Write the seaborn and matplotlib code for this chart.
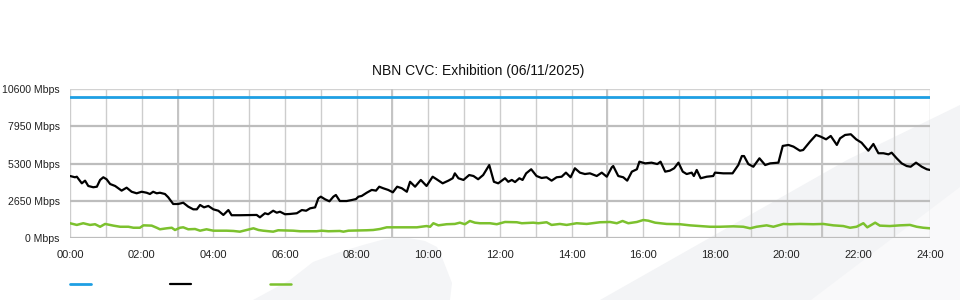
import matplotlib
matplotlib.use("Agg")
import matplotlib.pyplot as plt
import seaborn as sns
import pandas as pd
from matplotlib.patches import Polygon

# capacity (blue), 24h traffic (black), other traffic (green); x in hours
cap_hours = [0.0, 24.0]
cap_mbps = [10000, 10000]

black_hours = [
    0.00, 0.14, 0.19, 0.33, 0.42, 0.51, 0.65, 0.75, 0.84, 0.93, 1.02, 1.12, 1.26, 1.44, 1.58,
    1.72, 1.86, 2.00, 2.14, 2.23, 2.32, 2.42, 2.51, 2.65, 2.74, 2.88, 3.02, 3.16, 3.30, 3.44,
    3.54, 3.63, 3.74, 3.86, 4.00, 4.14, 4.28, 4.42, 4.51, 4.74, 5.21, 5.30, 5.44, 5.53, 5.67,
    5.77, 5.86, 6.00, 6.14, 6.33, 6.47, 6.59, 6.70, 6.84, 6.93, 7.00, 7.12, 7.24, 7.35, 7.42,
    7.53, 7.72, 7.86, 7.98, 8.05, 8.14, 8.28, 8.42, 8.54, 8.63, 8.74, 8.88, 9.01, 9.13, 9.26,
    9.40, 9.49, 9.63, 9.79, 9.95, 10.12, 10.23, 10.40, 10.56, 10.68, 10.74, 10.84, 10.98, 11.14,
    11.26, 11.39, 11.53, 11.70, 11.83, 11.95, 12.14, 12.23, 12.33, 12.42, 12.54, 12.63, 12.73,
    12.87, 13.02, 13.16, 13.30, 13.44, 13.58, 13.72, 13.84, 13.97, 14.09, 14.23, 14.37, 14.51,
    14.70, 14.84, 14.98, 15.12, 15.16, 15.30, 15.44, 15.55, 15.68, 15.82, 15.89, 16.05, 16.23,
    16.39, 16.48, 16.61, 16.74, 16.86, 16.98, 17.10, 17.21, 17.35, 17.41, 17.49, 17.60, 17.77,
    17.95, 18.00, 18.23, 18.49, 18.65, 18.75, 18.81, 18.93, 19.07, 19.24, 19.40, 19.54, 19.77,
    19.89, 20.05, 20.19, 20.37, 20.46, 20.65, 20.82, 20.95, 21.10, 21.23, 21.40, 21.49, 21.63,
    21.79, 21.94, 22.09, 22.28, 22.42, 22.56, 22.70, 22.84, 22.93, 23.07, 23.21, 23.35, 23.46,
    23.61, 23.77, 23.91, 24.00,
]
black_mbps = [
    4410, 4320, 4360, 3890, 4080, 3700, 3610, 3650, 4130, 4320, 4180, 3840, 3700, 3370, 3580,
    3290, 3180, 3290, 3220, 3130, 3290, 3180, 3220, 3130, 2900, 2420, 2420, 2510, 2230, 2040,
    2040, 2350, 2180, 2280, 2040, 1940, 1640, 1990, 1620, 1620, 1640, 1470, 1760, 1690, 1940,
    1800, 1870, 1690, 1710, 1760, 1990, 1940, 2110, 2180, 2820, 2940, 2750, 2610, 2940, 3060,
    2630, 2630, 2700, 2770, 2940, 2990, 3220, 3420, 3370, 3650, 3540, 3420, 3250, 3650, 3540,
    3290, 4000, 3650, 4130, 3700, 4360, 4180, 3890, 4080, 4250, 4600, 4250, 4130, 4480,
    4410, 4180, 4480, 5190, 4000, 3890, 4250, 4000, 4130, 3980, 4250, 4130, 4600,
    4890, 4410, 4270, 4320, 4080, 4320, 4360, 4650, 4320, 4960, 4650, 4550, 4600,
    4410, 4650, 4360, 5030, 5120, 4410, 4320, 4080, 4720, 4890, 5430, 5310, 5360,
    5260, 5430, 4720, 4790, 4960, 5360, 4720, 4550, 4650, 4410, 4840, 4250, 4360,
    4410, 4650, 4600, 4600, 5190, 5830, 5830, 5260, 5070, 5670, 5190, 5310, 5360,
    6550, 6620, 6500, 6210, 6260, 6850, 7330, 7210, 7020, 7260, 6620, 7090, 7330,
    7380, 7020, 6780, 6210, 6690, 6030, 6030, 5950, 6070, 5670, 5310, 5120, 5070,
    5360, 5070, 4890, 4840,
]

green_hours = [
    0.00, 0.19, 0.37, 0.56, 0.70, 0.84, 0.98, 1.21, 1.40, 1.63, 1.77, 1.95, 2.05, 2.28, 2.42,
    2.51, 2.70, 2.84, 2.93, 3.07, 3.16, 3.30, 3.49, 3.63, 3.81, 4.00, 4.37, 4.56, 4.74, 4.93,
    5.12, 5.26, 5.39, 5.67, 5.81, 6.23, 6.42, 6.88, 7.02, 7.21, 7.53, 7.63, 7.77, 8.28, 8.46,
    8.65, 8.84, 9.21, 9.68, 9.95, 10.05, 10.14, 10.28, 10.51, 10.74, 10.88, 11.02, 11.16, 11.30,
    11.44, 11.72, 11.91, 12.14, 12.47, 12.61, 12.93, 13.07, 13.30, 13.44, 13.67, 13.86, 14.14,
    14.42, 14.79, 15.07, 15.26, 15.42, 15.58, 15.82, 16.00, 16.14, 16.33, 16.65, 17.02, 17.30,
    17.58, 17.86, 18.14, 18.51, 18.79, 18.98, 19.16, 19.44, 19.63, 19.91, 20.09, 20.37, 20.74,
    21.02, 21.30, 21.58, 21.77, 21.95, 22.14, 22.25, 22.47, 22.60, 22.88, 23.16, 23.44, 23.63,
    23.81, 24.00,
]
green_mbps = [
    1050, 930, 1050, 930, 980, 800, 1000, 880, 800, 800, 730, 730, 900, 880, 730,
    620, 690, 730, 570, 730, 760, 620, 640, 520, 620, 520, 520, 500, 450, 570,
    690, 570, 520, 450, 550, 520, 480, 480, 520, 480, 500, 450, 520, 550, 570,
    640, 760, 760, 760, 850, 800, 1050, 900, 980, 1000, 1090, 980, 1210, 1090,
    1050, 1050, 980, 1140, 1120, 1050, 1090, 1050, 1120, 930, 1000, 930, 1050,
    1000, 1120, 1140, 1050, 1210, 1050, 1140, 1280, 1230, 1090, 1000, 980, 900,
    850, 800, 800, 830, 800, 690, 800, 900, 800, 1000, 980, 1000, 980,
    1000, 900, 850, 730, 800, 1050, 760, 1090, 880, 850, 900, 930, 800,
    730, 690,
]

y_ticks = [0, 2650, 5300, 7950, 10600]
y_labels = ["0 Mbps", "2650 Mbps", "5300 Mbps", "7950 Mbps", "10600 Mbps"]
x_ticks = list(range(0, 25, 2))
x_labels = ["%02d:00" % h for h in x_ticks]
title = "NBN CVC: Exhibition (06/11/2025)"

sns.set_style("white")
plt.rcParams["font.family"] = ["Liberation Sans", "DejaVu Sans"]

fig = plt.figure(figsize=(9.6, 3.0), dpi=100)

# light background swooshes (pixel coords of the 960x300 canvas)
def px(points):
    return [(x / 960, (300 - y) / 300) for x, y in points]

fin = px([(253, 300), (290, 280), (313, 262), (340, 252), (363, 245), (385, 239), (403, 237),
          (425, 241), (437, 247), (443, 260), (452, 283), (450, 300)])
band = px([(600, 300), (720, 232), (847, 160), (960, 105), (960, 300)])
band_low = px([(811, 300), (960, 187), (960, 300)])
for pts, col in [(fin, "#f4f5f7"), (band, "#f3f4f6"), (band_low, "#f9f9fa")]:
    fig.patches.append(Polygon(pts, closed=True, transform=fig.transFigure,
                               facecolor=col, edgecolor="none", zorder=-5))

ax = fig.add_axes([70 / 960, 62 / 300, 860 / 960, 149 / 300])
ax.set_zorder(2)
ax.set_facecolor("none")

cap = pd.DataFrame({"hour": cap_hours, "mbps": cap_mbps})
black = pd.DataFrame({"hour": black_hours, "mbps": black_mbps})
green = pd.DataFrame({"hour": green_hours, "mbps": green_mbps})

sns.lineplot(data=cap, x="hour", y="mbps", ax=ax, color="#1e9fe3", lw=2.0,
             estimator=None, zorder=5)
sns.lineplot(data=black, x="hour", y="mbps", ax=ax, color="black", lw=1.6,
             estimator=None, zorder=5)
sns.lineplot(data=green, x="hour", y="mbps", ax=ax, color="#7cc12e", lw=1.8,
             estimator=None, zorder=5)

ax.set_xlim(0, 24)
ax.set_ylim(0, 10600)
ax.set_xticks(x_ticks)
ax.set_xticklabels(x_labels)
ax.set_xticks(range(0, 25), minor=True)
ax.set_yticks(y_ticks)
ax.set_yticklabels(y_labels)
ax.set_xlabel("")
ax.set_ylabel("")
ax.tick_params(axis="both", which="both", length=0, labelsize=8, colors="#222222")
ax.tick_params(axis="y", labelsize=7.6, pad=7.5)
ax.tick_params(axis="x", pad=9)

ax.grid(True, axis="x", which="both", color="#cdcdcd", lw=1.0, zorder=1)
ax.grid(True, axis="y", which="major", color="#bdbdbd", lw=1.6, zorder=1)
ax.yaxis.get_gridlines()[-1].set_color("#d2d2d2")
ax.yaxis.get_gridlines()[-1].set_linewidth(1.0)
for h in [3, 9, 15, 21]:
    ax.axvline(h, color="#c4c4c4", lw=1.4, zorder=1)
ax.set_axisbelow(True)
sns.despine(ax=ax, left=True, bottom=True)

fig.text(478 / 960, 229 / 300, title, fontsize=10, ha="center", va="center",
         color="#111111")

handles = ax.get_lines()[:3]
fig.legend(handles, ["", "", ""], loc="center left", bbox_to_anchor=(70 / 960, 15 / 300),
           ncol=3, frameon=False, fontsize=10, handlelength=1.5, handletextpad=0,
           columnspacing=5.7, borderpad=0, borderaxespad=0)

fig.savefig("out.png", dpi=100)
